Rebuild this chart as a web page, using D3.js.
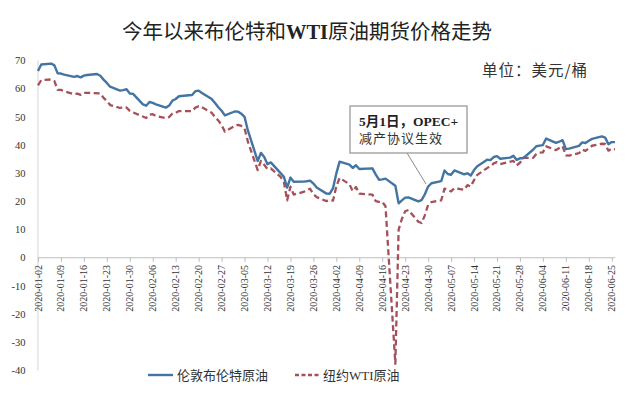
<!DOCTYPE html>
<html><head><meta charset="utf-8">
<script src="https://cdn.jsdelivr.net/npm/d3@7"></script>
<style>
html,body{margin:0;padding:0;background:#fff;}
svg{display:block;}
</style></head>
<body><svg id="c" width="640" height="397"></svg>
<script>
// ---- data ----
const dates = [
 "01-02","01-03","01-06","01-07","01-08","01-09","01-10","01-13","01-14","01-15","01-16","01-17","01-20","01-21","01-22","01-23","01-24","01-27","01-28","01-29","01-30","01-31",
 "02-03","02-04","02-05","02-06","02-07","02-10","02-11","02-12","02-13","02-14","02-17","02-18","02-19","02-20","02-21","02-24","02-25","02-26","02-27","02-28",
 "03-02","03-03","03-04","03-05","03-06","03-09","03-10","03-11","03-12","03-13","03-16","03-17","03-18","03-19","03-20","03-23","03-24","03-25","03-26","03-27","03-30","03-31",
 "04-01","04-02","04-03","04-06","04-07","04-08","04-09","04-13","04-14","04-15","04-16","04-17","04-20","04-21","04-22","04-23","04-24","04-27","04-28","04-29","04-30",
 "05-01","05-04","05-05","05-06","05-07","05-08","05-11","05-12","05-13","05-14","05-15","05-18","05-19","05-20","05-21","05-22","05-25","05-26","05-27","05-28","05-29",
 "06-01","06-02","06-03","06-04","06-05","06-08","06-09","06-10","06-11","06-12","06-15","06-16","06-17","06-18","06-19","06-22","06-23","06-24","06-25","06-26"
];
const brent = [
 66.25,68.60,68.91,68.27,65.44,65.37,64.98,64.20,64.49,64.00,64.62,64.85,65.20,64.59,63.21,62.04,60.69,59.32,59.51,59.81,58.29,58.16,
 54.45,53.96,55.28,54.93,54.47,53.27,54.01,55.79,56.34,57.32,57.67,57.75,59.12,59.31,58.50,56.30,54.95,53.43,52.18,50.52,
 51.90,51.86,51.13,49.99,45.27,34.36,37.22,35.79,33.22,33.85,30.05,28.73,24.88,28.47,26.98,27.03,27.15,27.39,26.34,24.93,22.76,22.74,
 24.74,29.94,34.11,33.05,31.87,32.84,31.48,31.74,29.60,27.69,27.82,28.08,25.57,19.33,20.37,21.33,21.44,19.99,20.46,22.54,25.27,
 26.44,27.20,30.97,29.72,29.46,30.97,29.63,29.98,29.19,31.13,32.50,34.81,34.65,35.75,36.06,35.13,35.53,36.17,34.74,35.29,35.33,
 38.32,39.57,39.79,39.99,42.30,40.80,41.18,41.73,38.55,38.73,39.72,40.96,40.71,41.51,42.19,43.08,42.63,40.31,41.05,41.02
];
const wti = [
 61.18,63.05,63.27,62.70,59.61,59.56,59.04,58.08,58.23,57.81,58.52,58.54,null,58.34,56.74,55.59,54.19,53.14,53.48,53.33,52.14,51.56,
 50.11,49.61,50.75,50.95,50.32,49.57,49.94,51.17,51.42,52.05,null,52.05,53.29,53.78,53.38,51.43,49.90,48.73,47.09,44.76,
 46.75,47.18,46.78,45.90,41.28,31.13,34.36,32.98,31.50,31.73,28.70,26.95,20.37,25.22,22.43,23.36,24.01,24.49,22.60,21.51,20.09,20.48,
 20.31,25.32,28.34,26.08,23.63,25.09,22.76,22.41,20.11,19.87,19.87,18.27,-37.63,10.01,13.78,16.50,16.94,12.78,12.34,15.06,18.84,
 19.78,20.39,24.56,23.99,23.55,24.74,24.14,25.78,25.29,27.56,29.43,31.82,32.50,33.49,33.92,33.25,null,34.35,32.81,33.71,35.49,
 35.44,36.81,37.29,37.41,39.55,38.19,38.94,39.60,36.34,36.26,37.12,38.38,37.96,38.84,39.75,40.46,40.37,38.01,38.72,38.49
];
const xTickLabels = [
 "2020-01-02","2020-01-09","2020-01-16","2020-01-23","2020-01-30","2020-02-06","2020-02-13","2020-02-20","2020-02-27",
 "2020-03-05","2020-03-12","2020-03-19","2020-03-26","2020-04-02","2020-04-09","2020-04-16","2020-04-23","2020-04-30",
 "2020-05-07","2020-05-14","2020-05-21","2020-05-28","2020-06-04","2020-06-11","2020-06-18","2020-06-25"
];
const yTicks = [70,60,50,40,30,20,10,0,-10,-20,-30,-40];
const seriesNames = ["伦敦布伦特原油","纽约WTI原油"];
const titleParts = ["今年以来布伦特和","WTI","原油期货价格走势"];
const unitLabel = "单位：美元/桶";
const noteLines = ["5月1日，OPEC+","减产协议生效"];

// ---- drawing ----
const svg = d3.select("#c");
const parse = d3.timeParse("%Y-%m-%d");
const dts = dates.map(d => parse("2020-" + d));
const x = d3.scaleTime().domain([parse("2020-01-02"), parse("2020-06-26")]).range([38, 615]);
const y = d3.scaleLinear().domain([-40, 70]).range([370.5, 60.5]);

const serif = "'Liberation Serif','Times New Roman',serif";
const cjk = "'Noto Sans CJK SC','Noto Sans CJK JP',sans-serif";
const mixed = "'Liberation Serif','Noto Sans CJK SC',serif";
const blue = "#4474a2", red = "#a5505a";

// y axis
svg.append("line").attr("x1",38).attr("x2",38).attr("y1",y(70)).attr("y2",y(-40))
  .attr("stroke","#d4d4d4").attr("stroke-width",1);
svg.append("g").selectAll("text").data(yTicks).join("text")
  .attr("x",25.5).attr("y",d=>y(d)).attr("dy","0.35em").attr("text-anchor","end")
  .attr("font-family",serif).attr("font-size",10.5).attr("fill","#333").text(d=>d);

// x axis at zero
const xAxis = d3.axisBottom(x)
  .tickValues(xTickLabels.map(parse))
  .tickSize(4).tickSizeOuter(0).tickFormat("");
const gx = svg.append("g").attr("transform",`translate(0,${y(0)})`).call(xAxis);
gx.select(".domain").attr("stroke","#bdbdbd").attr("d",`M38,0H615`);
gx.selectAll(".tick line").attr("stroke","#bdbdbd");
svg.append("g").selectAll("text").data(xTickLabels).join("text")
  .attr("transform",d=>`translate(${x(parse(d))},265) rotate(-90)`)
  .attr("dy","0.35em").attr("text-anchor","end")
  .attr("font-family",serif).attr("font-size",10).attr("fill","#333").text(d=>d);

// lines
function pts(vals){ return dts.map((d,i)=>[d,vals[i]]).filter(p=>p[1]!==null); }
const line = d3.line().x(p=>x(p[0])).y(p=>y(p[1]));
svg.append("path").datum(pts(wti)).attr("d",line).attr("fill","none")
  .attr("stroke",red).attr("stroke-width",2.3).attr("stroke-dasharray","6,3.5").attr("stroke-linejoin","round");
svg.append("path").datum(pts(brent)).attr("d",line).attr("fill","none")
  .attr("stroke",blue).attr("stroke-width",2.4).attr("stroke-linejoin","round");

// title
const t = svg.append("text").attr("x",307).attr("y",39).attr("text-anchor","middle")
  .attr("font-size",20.5).attr("fill","#222");
t.append("tspan").attr("font-family",cjk).text(titleParts[0]);
t.append("tspan").attr("font-family",serif).attr("font-weight","bold").text(titleParts[1]);
t.append("tspan").attr("font-family",cjk).text(titleParts[2]);

// unit
svg.append("text").attr("x",482).attr("y",76).attr("font-family",cjk).attr("font-size",15.5)
  .attr("letter-spacing",1).attr("fill","#333").text(unitLabel);

// annotation
svg.append("line").attr("x1",407).attr("y1",153).attr("x2",426).attr("y2",184)
  .attr("stroke","#8a8a8a").attr("stroke-width",1);
svg.append("rect").attr("x",350).attr("y",106).attr("width",117).attr("height",47)
  .attr("fill","#fff").attr("stroke","#9a9a9a").attr("stroke-width",1.3);
svg.append("text").attr("x",359).attr("y",126).attr("font-family",mixed).attr("font-size",13.5)
  .attr("font-weight","bold").attr("fill","#222").text(noteLines[0]);
svg.append("text").attr("x",359).attr("y",143).attr("font-family",cjk).attr("font-size",13)
  .attr("letter-spacing",1).attr("fill","#333").text(noteLines[1]);

// legend
svg.append("line").attr("x1",148).attr("x2",173).attr("y1",375).attr("y2",375)
  .attr("stroke",blue).attr("stroke-width",2.4);
svg.append("text").attr("x",177).attr("y",380).attr("font-family",cjk).attr("font-size",13)
  .attr("fill","#333").text(seriesNames[0]);
svg.append("line").attr("x1",295).attr("x2",320).attr("y1",375).attr("y2",375)
  .attr("stroke",red).attr("stroke-width",2.3).attr("stroke-dasharray","4,2.5");
const l2 = svg.append("text").attr("x",323).attr("y",380).attr("font-size",13).attr("fill","#333");
l2.append("tspan").attr("font-family",cjk).text("纽约");
l2.append("tspan").attr("font-family",serif).text("WTI");
l2.append("tspan").attr("font-family",cjk).text("原油");
</script></body></html>
